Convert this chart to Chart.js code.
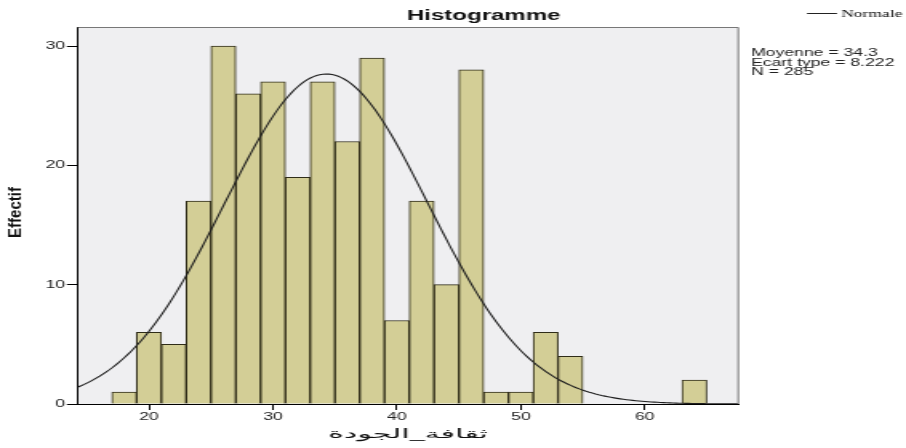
<!DOCTYPE html>
<html>
<head>
<meta charset="utf-8">
<script src="https://cdn.jsdelivr.net/npm/chart.js@4"></script>
<style>
  html, body { margin: 0; padding: 0; background: #fff; overflow: hidden; }
  #histo { display: block; }
</style>
</head>
<body>
<canvas id="histo" width="566" height="448" style="width:906px;height:448px"></canvas>
<script>
// bins of width 2, centre of each bin (empty bins 56..62 left out)
var binCenters = [18, 20, 22, 24, 26, 28, 30, 32, 34, 36, 38, 40, 42, 44, 46, 48, 50, 52, 54, 64];
var counts     = [1, 6, 5, 17, 30, 26, 27, 19, 27, 22, 29, 7, 17, 10, 28, 1, 1, 6, 4, 2];
var xTicks = [20, 30, 40, 50, 60];
var yTicks = [0, 10, 20, 30];

// stats printed beside the plot
var moyenne = 34.3;
var ecartType = 8.222;
var effectif = 285;
var binWidth = 2;

var xMin = 14.27, xMax = 67.6, yMax = 31.6;

// the picture is stretched sideways: draw narrow, let css widen it
var S = 906 / 566;

// normal curve scaled to counts
var normale = [];
for (var x = xMin; x <= xMax + 0.001; x += 0.25) {
  var z = (x - moyenne) / ecartType;
  normale.push({ x: x, y: effectif * binWidth * Math.exp(-z * z / 2) / (ecartType * Math.sqrt(2 * Math.PI)) });
}

var bars = binCenters.map(function (c, i) { return { x: c, y: counts[i] }; });

Chart.defaults.font.family = "'Liberation Sans', Arial, sans-serif";

var decor = {
  id: 'decor',
  beforeDraw: function (chart) {
    var ctx = chart.ctx, a = chart.chartArea;
    ctx.save();
    ctx.fillStyle = '#fff';
    ctx.fillRect(0, 0, chart.width, chart.height);
    ctx.fillStyle = '#efeff1';
    ctx.fillRect(a.left, a.top, a.right - a.left, a.bottom - a.top);
    ctx.restore();
  },
  afterDraw: function (chart) {
    var ctx = chart.ctx, a = chart.chartArea;
    ctx.save();
    // frame top/right
    ctx.strokeStyle = '#777';
    ctx.lineWidth = 1;
    ctx.beginPath();
    ctx.moveTo(a.left, a.top + 0.5);
    ctx.lineTo(a.right - 0.5, a.top + 0.5);
    ctx.lineTo(a.right - 0.5, a.bottom);
    ctx.stroke();

    ctx.fillStyle = '#111';
    ctx.textBaseline = 'alphabetic';
    ctx.textAlign = 'left';
    ctx.font = "bold 15px 'Liberation Sans', Arial, sans-serif";
    ctx.fillText('Histogramme', 407 / S, 20);

    ctx.font = "11px 'Liberation Sans', Arial, sans-serif";
    ctx.fillStyle = '#222';
    ctx.fillText('Moyenne = ' + moyenne, 751 / S, 56);
    ctx.fillText('Ecart type = ' + ecartType, 751 / S, 65.5);
    ctx.fillText('N = ' + effectif, 751 / S, 75);

    // legend
    ctx.strokeStyle = '#222';
    ctx.beginPath();
    ctx.moveTo(807 / S, 13.5);
    ctx.lineTo(837 / S, 13.5);
    ctx.stroke();
    ctx.font = "11px 'Liberation Serif', 'Times New Roman', serif";
    ctx.fillStyle = '#111';
    ctx.fillText('Normale', 841 / S, 17);

    // x title
    ctx.save();
    ctx.translate(408 / S, 435);
    ctx.scale(1.5, 1);
    ctx.font = "12.5px 'DejaVu Sans', sans-serif";
    ctx.textAlign = 'center';
    ctx.textBaseline = 'middle';
    ctx.fillText('ثقافة_الجودة', 0, 0);
    ctx.restore();

    // y title
    ctx.translate(16.3 / S, 212.5);
    ctx.rotate(-Math.PI / 2);
    ctx.scale(1, 0.72);
    ctx.textAlign = 'center';
    ctx.textBaseline = 'middle';
    ctx.font = "bold 15px 'Liberation Sans', Arial, sans-serif";
    ctx.fillText('Effectif', 0, 0);
    ctx.restore();
  }
};

var chart = new Chart(document.getElementById('histo'), {
  type: 'bar',
  data: {
    datasets: [
      {
        type: 'line',
        label: 'Normale',
        data: normale,
        borderColor: '#1e1e1e',
        borderWidth: 1.1,
        pointRadius: 0,
        tension: 0,
        fill: false,
        order: 0
      },
      {
        label: 'Effectif',
        data: bars,
        backgroundColor: '#d3ce96',
        borderColor: '#2f2c18',
        borderWidth: 1,
        barPercentage: 1,
        categoryPercentage: 1,
        grouped: false,
        order: 1
      }
    ]
  },
  options: {
    responsive: false,
    animation: false,
    devicePixelRatio: 1,
    layout: { padding: { left: 0, right: 566 - 739 / S, top: 27, bottom: 0 } },
    plugins: { legend: { display: false }, tooltip: { enabled: false }, title: { display: false } },
    scales: {
      x: {
        type: 'linear',
        min: xMin,
        max: xMax,
        offset: false,
        z: 1,
        afterBuildTicks: function (s) { s.ticks = xTicks.map(function (v) { return { value: v }; }); },
        afterFit: function (s) { s.height = 44; },
        grid: { offset: false, drawOnChartArea: false, drawTicks: true, tickLength: 6, color: '#000' },
        border: { display: true, color: '#000', width: 1 },
        ticks: { color: '#222', font: { size: 11 }, padding: 0, maxRotation: 0, autoSkip: false }
      },
      y: {
        min: 0,
        max: yMax,
        z: 1,
        afterBuildTicks: function (s) { s.ticks = yTicks.map(function (v) { return { value: v }; }); },
        afterFit: function (s) { s.width = 78 / S; },
        grid: { drawOnChartArea: false, drawTicks: true, tickLength: 7, color: '#000' },
        border: { display: true, color: '#000', width: 1 },
        ticks: { color: '#222', font: { size: 11 }, padding: 1 }
      }
    }
  },
  plugins: [decor]
});
</script>
</body>
</html>
